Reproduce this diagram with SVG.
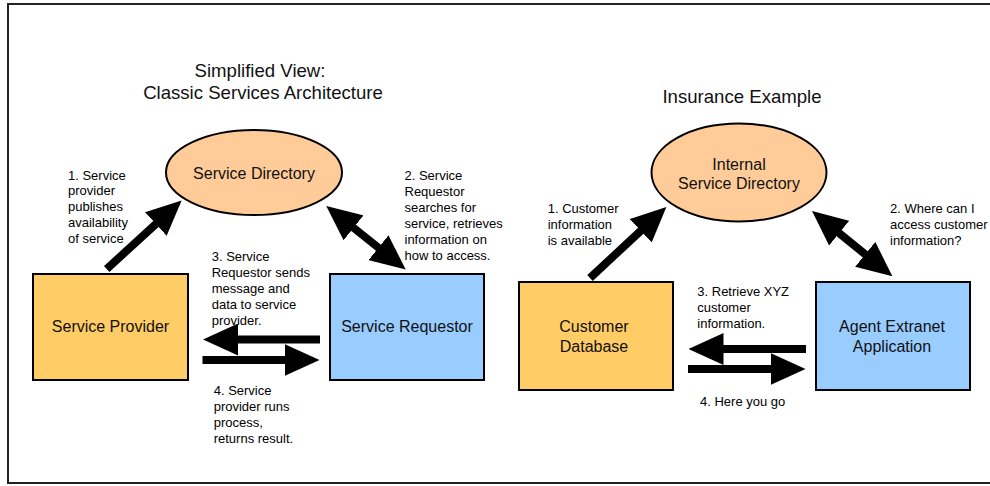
<svg xmlns="http://www.w3.org/2000/svg" width="990" height="486" viewBox="0 0 990 486">
  <style>
    text { font-family: "Liberation Sans", Arial, sans-serif; fill: #111; }
    .title { font-size: 18.6px; text-anchor: middle; }
    .node-label { font-size: 16px; text-anchor: middle; }
    .note { font-size: 13px; fill: #000; }
    .provider { fill: #FFCC66; stroke: #000; stroke-width: 2; }
    .requestor { fill: #99CCFF; stroke: #000; stroke-width: 2; }
    .directory { fill: #FFCC99; stroke: #000; stroke-width: 2; }
    .shaft { stroke: #000; stroke-width: 8; fill: none; marker-end: url(#head); }
    .shaft.both { marker-start: url(#head); }
  </style>
  <defs>
    <marker id="head" markerUnits="userSpaceOnUse" viewBox="0 0 35 32" markerWidth="35" markerHeight="32" refX="0.5" refY="16" orient="auto-start-reverse">
      <path d="M0,0 L35,16 L0,32 z" fill="#000"/>
    </marker>
  </defs>

  <rect x="0" y="0" width="990" height="486" fill="#fff"/>
  <!-- outer frame -->
  <rect x="8" y="4" width="1000" height="479" fill="none" stroke="#222" stroke-width="2"/>

  <!-- titles -->
  <text class="title" x="260" y="77">Simplified View:</text>
  <text class="title" x="263" y="99">Classic Services Architecture</text>
  <text class="title" x="742" y="103">Insurance Example</text>

  <!-- left panel nodes -->
  <g id="service-directory">
    <ellipse class="directory" cx="254" cy="172.5" rx="88" ry="42.5"/>
    <text class="node-label" x="254" y="179">Service Directory</text>
  </g>
  <g id="service-provider">
    <rect class="provider" x="33" y="274" width="155" height="106"/>
    <text class="node-label" x="110.5" y="332">Service Provider</text>
  </g>
  <g id="service-requestor">
    <rect class="requestor" x="330" y="274" width="154" height="106"/>
    <text class="node-label" x="407" y="332">Service Requestor</text>
  </g>

  <!-- right panel nodes -->
  <g id="internal-service-directory">
    <ellipse class="directory" cx="739" cy="172.5" rx="87.5" ry="49"/>
    <text class="node-label" x="739" y="170">Internal</text>
    <text class="node-label" x="739" y="188.5">Service Directory</text>
  </g>
  <g id="customer-database">
    <rect class="provider" x="519" y="282" width="154" height="108"/>
    <text class="node-label" x="594" y="332">Customer</text>
    <text class="node-label" x="594" y="352">Database</text>
  </g>
  <g id="agent-extranet">
    <rect class="requestor" x="816" y="282" width="154" height="108"/>
    <text class="node-label" x="892" y="332">Agent Extranet</text>
    <text class="node-label" x="892" y="352">Application</text>
  </g>

  <!-- connectors -->
  <g id="connectors">
    <line class="shaft" x1="106.7" y1="269" x2="156.2" y2="223.7"/>
    <line class="shaft both" x1="353.2" y1="227.5" x2="378.8" y2="248"/>
    <line class="shaft" x1="320" y1="339.5" x2="237.5" y2="339.5"/>
    <line class="shaft" x1="202.5" y1="360" x2="285" y2="360"/>

    <line class="shaft" x1="590" y1="278" x2="641.1" y2="230.5"/>
    <line class="shaft both" x1="838.8" y1="232.8" x2="865.6" y2="254.6"/>
    <line class="shaft" x1="806" y1="349" x2="723" y2="349"/>
    <line class="shaft" x1="688" y1="369" x2="771" y2="369"/>
  </g>

  <!-- step annotations -->
  <g id="notes">
    <text class="note" x="68" y="179.5">1. Service</text>
    <text class="note" x="68" y="195.4">provider</text>
    <text class="note" x="68" y="211.3">publishes</text>
    <text class="note" x="68" y="227.2">availability</text>
    <text class="note" x="68" y="243.1">of service</text>

    <text class="note" x="404.5" y="180">2. Service</text>
    <text class="note" x="404.5" y="196">Requestor</text>
    <text class="note" x="404.5" y="212">searches for</text>
    <text class="note" x="404.5" y="228">service, retrieves</text>
    <text class="note" x="404.5" y="244">information on</text>
    <text class="note" x="404.5" y="260">how to access.</text>

    <text class="note" x="211.7" y="260.7">3. Service</text>
    <text class="note" x="211.7" y="276.7">Requestor sends</text>
    <text class="note" x="211.7" y="292.7">message and</text>
    <text class="note" x="211.7" y="308.7">data to service</text>
    <text class="note" x="211.7" y="324.6">provider.</text>

    <text class="note" x="213.7" y="395">4. Service</text>
    <text class="note" x="213.7" y="411">provider runs</text>
    <text class="note" x="213.7" y="427">process,</text>
    <text class="note" x="213.7" y="443">returns result.</text>

    <text class="note" x="547.7" y="213.3">1. Customer</text>
    <text class="note" x="547.7" y="229.3">information</text>
    <text class="note" x="547.7" y="245.3">is available</text>

    <text class="note" x="890" y="213.3">2. Where can I</text>
    <text class="note" x="890" y="229.3">access customer</text>
    <text class="note" x="890" y="245.3">information?</text>

    <text class="note" x="697.3" y="295.7">3. Retrieve XYZ</text>
    <text class="note" x="697.3" y="311.7">customer</text>
    <text class="note" x="697.3" y="327.7">information.</text>

    <text class="note" x="700" y="406">4. Here you go</text>
  </g>
</svg>
